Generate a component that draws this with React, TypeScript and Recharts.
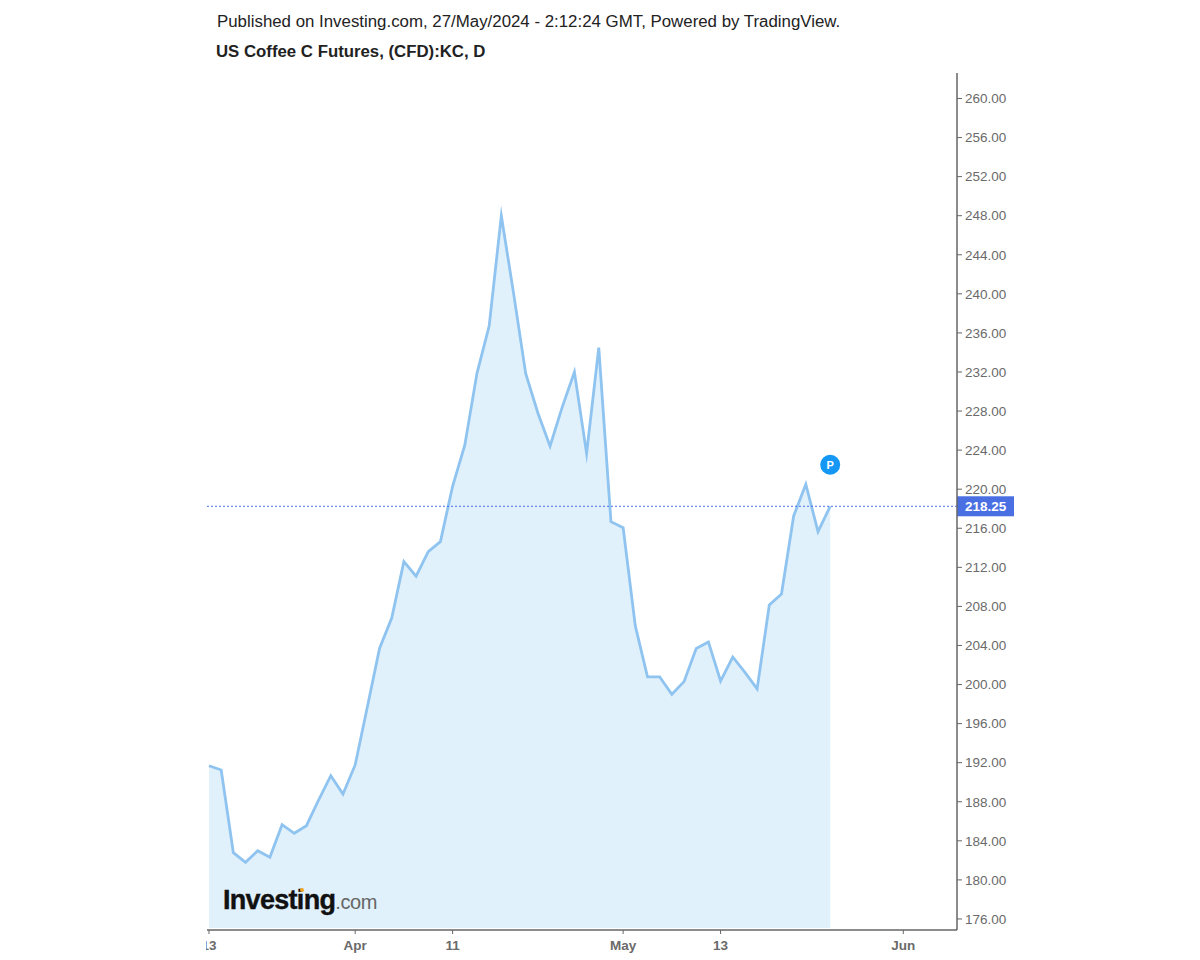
import React from "react";
import { ComposedChart, Area, XAxis, YAxis, ReferenceLine, ReferenceDot } from "recharts";

const indices = [
  0, 1, 2, 3, 4, 5, 6, 7, 8, 9, 10, 11, 12, 13, 14, 15, 16, 17, 18, 19, 20, 21, 22, 23, 24, 25,
  26, 27, 28, 29, 30, 31, 32, 33, 34, 35, 36, 37, 38, 39, 40, 41, 42, 43, 44, 45, 46, 47, 48, 49, 50, 51,
];
const closes = [
  191.69, 191.25, 182.79, 181.8, 182.99, 182.32, 185.65, 184.77, 185.55, 188.18, 190.67, 188.8, 191.77,
  197.7, 203.7, 206.8, 212.58, 211.1, 213.6, 214.63, 220.3, 224.5, 231.86, 236.7, 248.0, 240.1,
  231.86, 227.8, 224.4, 228.4, 232.0, 223.67, 234.5, 216.67, 216.06, 206.0, 200.78, 200.78, 199.0, 200.3,
  203.7, 204.36, 200.36, 202.82, 201.25, 199.55, 208.15, 209.27, 217.26, 220.5, 215.65, 218.25,
];
const xTickIndex = [0, 12, 20, 34, 42, 57];
const xTickLabels = ["13", "Apr", "11", "May", "13", "Jun"];
const yTicks = [
  176, 180, 184, 188, 192, 196, 200, 204, 208, 212, 216, 220, 224, 228, 232, 236, 240, 244, 248, 252, 256, 260,
];
const lastPrice = 218.25;
const publishedText = "Published on Investing.com, 27/May/2024 - 2:12:24 GMT, Powered by TradingView.";
const titleText = "US Coffee C Futures, (CFD):KC, D";

const rows = indices.map((i, k) => ({ i, close: closes[k] }));
const FONT = "'Liberation Sans', Arial, sans-serif";

const XTick = (props: any) => {
  const { x, y, payload } = props;
  const k = xTickIndex.indexOf(payload.value);
  return (
    <text
      x={x}
      y={y + 14}
      textAnchor="middle"
      fontFamily={FONT}
      fontSize={13.5}
      fontWeight="bold"
      fill="#6a6a6a"
      clipPath="url(#xTickClip)"
    >
      {xTickLabels[k]}
    </text>
  );
};

const PriceTag = (props: any) => {
  const { viewBox } = props;
  const right = viewBox.x + viewBox.width;
  const y = viewBox.y;
  return (
    <g>
      <rect x={right} y={y - 10} width={57} height={20} fill="#4a6fe3" />
      <text x={right + 8} y={y + 5} fontFamily={FONT} fontSize={13.5} fontWeight="bold" fill="#ffffff">
        {lastPrice.toFixed(2)}
      </text>
    </g>
  );
};

const BadgeLabel = (props: any) => {
  const { viewBox } = props;
  const cx = viewBox.x + viewBox.width / 2;
  const cy = viewBox.y + viewBox.height / 2;
  return (
    <text x={cx} y={cy + 4} textAnchor="middle" fontFamily={FONT} fontSize={11} fontWeight="bold" fill="#ffffff">
      P
    </text>
  );
};

export default function App() {
  return (
    <div style={{ position: "absolute", left: 0, top: 0, width: 1200, height: 960, background: "#fff", fontFamily: FONT }}>
      <ComposedChart
        width={1200}
        height={960}
        data={rows}
        margin={{ top: 73, right: 183, bottom: 0, left: 207 }}
      >
        <defs>
          <clipPath id="xTickClip">
            <rect x={206} y={930} width={800} height={30} />
          </clipPath>
        </defs>
        <Area
          type="linear"
          dataKey="close"
          stroke="#8fc3f0"
          strokeWidth={2.8}
          strokeMiterlimit={10}
          fill="#e0f1fb"
          fillOpacity={1}
          baseValue={175.08}
          dot={false}
          activeDot={false}
          isAnimationActive={false}
        />
        <XAxis
          dataKey="i"
          type="number"
          domain={[-0.164, 61.41]}
          allowDataOverflow
          ticks={xTickIndex}
          interval={0}
          height={30}
          stroke="#666666"
          tickSize={4}
          tickLine={{ stroke: "#666666" }}
          axisLine={{ stroke: "#666666", strokeWidth: 1.5 }}
          tick={<XTick />}
        />
        <YAxis
          orientation="right"
          type="number"
          domain={[174.87, 262.61]}
          allowDataOverflow
          ticks={yTicks}
          interval={0}
          width={60}
          tickSize={5}
          tickMargin={3}
          tickFormatter={(v: number) => v.toFixed(2)}
          tick={{ fontFamily: FONT, fontSize: 13.5, fill: "#6a6a6a" }}
          tickLine={{ stroke: "#666666" }}
          axisLine={{ stroke: "#666666", strokeWidth: 1.5 }}
        />
        <ReferenceLine
          y={lastPrice}
          stroke="#4a6fe3"
          strokeWidth={1}
          strokeDasharray="2 2"
          ifOverflow="visible"
          label={<PriceTag />}
        />
        <ReferenceDot
          x={51}
          y={222.5}
          r={10}
          fill="#1598f5"
          stroke="#ffffff"
          strokeWidth={0}
          ifOverflow="visible"
          isFront
          label={<BadgeLabel />}
        />
      </ComposedChart>
      <div style={{ position: "absolute", left: 217, top: 13, fontSize: 16.85, lineHeight: "18px", color: "#222", whiteSpace: "nowrap" }}>
        {publishedText}
      </div>
      <div style={{ position: "absolute", left: 216, top: 43, fontSize: 16.8, lineHeight: "18px", fontWeight: "bold", color: "#222", whiteSpace: "nowrap" }}>
        {titleText}
      </div>
      <div style={{ position: "absolute", left: 223, top: 882, lineHeight: "36px", color: "#111", whiteSpace: "nowrap" }}>
        <span style={{ fontSize: 27, fontWeight: "bold", letterSpacing: -0.7, WebkitTextStroke: "0.4px #111" }}>Investing</span>
        <span style={{ fontSize: 20, color: "#666", letterSpacing: -0.4 }}>.com</span>
      </div>
      <div style={{ position: "absolute", left: 300, top: 888, width: 4, height: 4, borderRadius: 2, background: "#f5a623" }} />
    </div>
  );
}
